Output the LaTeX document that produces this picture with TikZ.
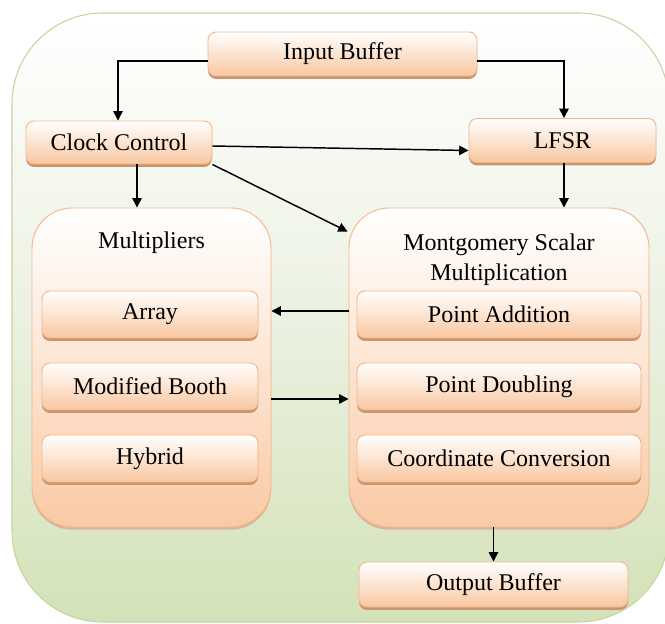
\documentclass[tikz,border=0pt]{standalone}
\usepackage{fontspec}
\setmainfont{Liberation Serif}
\usetikzlibrary{calc,shadows,arrows.meta}
\definecolor{peach}{HTML}{F9C7A0}
\definecolor{peachborder}{HTML}{F4B689}
\definecolor{shadowc}{HTML}{C8956E}
\definecolor{greenbot}{HTML}{D3E2B8}
\definecolor{greenmid}{HTML}{EBF1E1}
\definecolor{greenborder}{HTML}{C3D69B}
\begin{document}
\begin{tikzpicture}[x=0.75pt,y=-0.75pt,
  txt/.style={font=\fontsize{18}{22.5}\selectfont},
  box/.style={txt, draw=peachborder, line width=0.7pt, rounded corners=6pt,
    top color=white, bottom color=peach, inner sep=0pt,
    drop shadow={shadow xshift=0pt, shadow yshift=-2.2pt, fill=shadowc, opacity=1}},
  container/.style={draw=peachborder, line width=0.7pt, rounded corners=30pt,
    top color=white, bottom color=peach!95, inner sep=0pt,
    drop shadow={shadow xshift=0pt, shadow yshift=-2pt, fill=shadowc!70, opacity=1}},
  arr/.style={draw=black, line width=1.1pt, -{Triangle[length=7pt,width=7pt]}}
]
\useasboundingbox (0,0) rectangle (665,624);
% outer background
\path[draw=greenborder, line width=0.8pt, top color=white, bottom color=greenbot,
  middle color=greenmid, rounded corners=68pt] (12,13) rectangle (669,622);

% top row
\node[box, minimum width=269*0.75pt, minimum height=44*0.75pt] (ib) at (342.5,54) {Input Buffer};
\node[box, minimum width=186*0.75pt, minimum height=43*0.75pt] (cc) at (119,142.5) {Clock Control};
\node[box, minimum width=187*0.75pt, minimum height=44*0.75pt] (lfsr) at (562.5,140.5) {LFSR};

% containers
\node[container, minimum width=239*0.75pt, minimum height=319*0.75pt] (mult) at (151.5,367.5) {};
\node[container, minimum width=300*0.75pt, minimum height=319*0.75pt] (mont) at (499,367.5) {};
\node[txt] (multlbl) at (151.5,243) {Multipliers};
\node[txt, align=center] (montlbl) at (499,260) {Montgomery Scalar\\Multiplication};

% inner boxes
\node[box, minimum width=216*0.75pt, minimum height=47*0.75pt] (array) at (150,314.5) {Array};
\node[box, minimum width=216*0.75pt, minimum height=47*0.75pt] (mb) at (150,386.5) {Modified Booth};
\node[box, minimum width=216*0.75pt, minimum height=47*0.75pt] (hyb) at (150,458.5) {Hybrid};
\node[box, minimum width=284*0.75pt, minimum height=47*0.75pt] (pa) at (499,314.5) {Point Addition};
\node[box, minimum width=284*0.75pt, minimum height=47*0.75pt] (pd) at (499,386.5) {Point Doubling};
\node[box, minimum width=284*0.75pt, minimum height=47*0.75pt] (ccv) at (499,458.5) {Coordinate Conversion};

% output
\node[box, minimum width=269*0.75pt, minimum height=45*0.75pt] (out) at (493.5,584.5) {Output Buffer};

% connectors
\draw[arr] ($(ib.west)+(0,7)$) -| ($(cc.north)+(-1,0)$);
\draw[arr] ($(ib.east)+(0,7)$) -| ($(lfsr.north)+(1.5,0)$);
\draw[arr] ($(cc.east)+(0,3.5)$) -- ($(lfsr.west)+(0,10)$);
\coordinate (ccs) at ($(cc.south)+(18,0)$);
\draw[arr] (ccs) -- (ccs |- mult.north);
\coordinate (mt) at ($(mont.north west)+(-1,24)$);
\draw[arr] (cc.south east) -- (mt);
\coordinate (ls) at ($(lfsr.south)+(1.5,0)$);
\draw[arr] (ls) -- (ls |- mont.north);
\draw[arr] ($(pa.west -| mont.west)+(0,-3.5)$) -- ($(pa.west -| mult.east)+(0,-3.5)$);
\draw[arr] ($(mb.east -| mult.east)+(0,12.5)$) -- ($(mb.east -| mont.west)+(0,12.5)$);
\draw[arr] (out.north |- mont.south) -- (out.north);
\end{tikzpicture}
\end{document}
